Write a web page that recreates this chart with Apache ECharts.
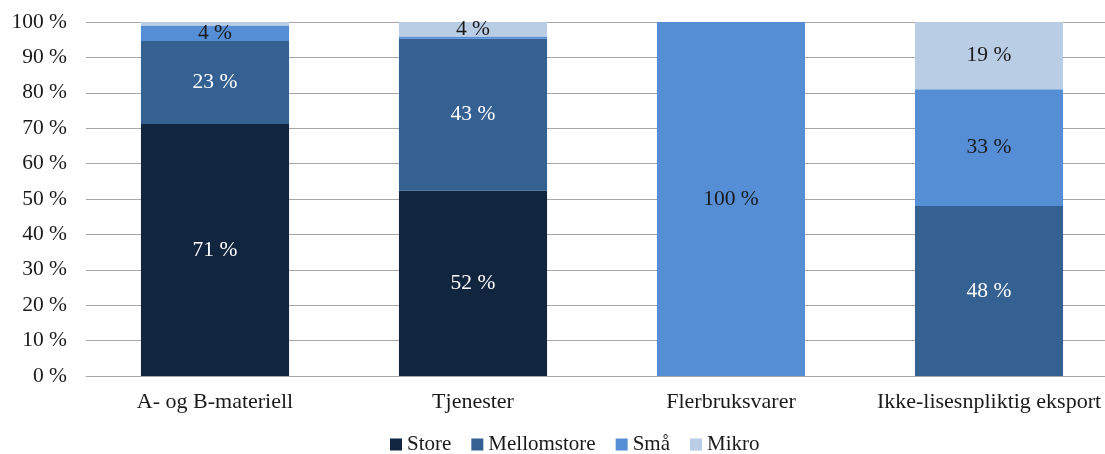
<!DOCTYPE html>
<html><head><meta charset="utf-8">
<script src="https://cdn.jsdelivr.net/npm/echarts@6/dist/echarts.min.js"></script>
<style>html,body{margin:0;padding:0;background:#fff;overflow:hidden}#c{width:1118px;height:454px}</style>
</head><body><div id="c"></div>
<script>
const categories = ['A- og B-materiell', 'Tjenester', 'Flerbruksvarer', 'Ikke-lisesnpliktig eksport'];
const seriesNames = ['Store', 'Mellomstore', 'Små', 'Mikro'];
const store = [71.2, 52.3, 0, 0];
const mellomstore = [23.4, 43.0, 0, 48.0];
const smaa = [4.4, 0.6, 100, 33.0];
const mikro = [1.0, 4.1, 0, 19.0];
const yTicks = [0, 10, 20, 30, 40, 50, 60, 70, 80, 90, 100];

const colors = ['#11253F', '#356092', '#558ED5', '#B9CDE5'];
const labelColors = ['#ffffff', '#ffffff', '#1a1a1a', '#1a1a1a'];
const font = 'Liberation Serif';
const values = [store, mellomstore, smaa, mikro];

const chart = echarts.init(document.getElementById('c'));
chart.setOption({
  animation: false,
  color: colors,
  textStyle: { fontFamily: font },
  grid: { left: 86, right: 0, top: 22, bottom: 78 },
  legend: {
    top: 429, left: 385, itemWidth: 12, itemHeight: 12, itemGap: 20,
    icon: 'rect',
    textStyle: { fontFamily: font, fontSize: 21, color: '#1a1a1a' },
    data: seriesNames
  },
  xAxis: {
    type: 'category', data: categories,
    axisLine: { lineStyle: { color: '#a6a6a6' } },
    axisTick: { show: false },
    axisLabel: { interval: 0, fontFamily: font, fontSize: 22, color: '#1a1a1a', margin: 15 }
  },
  yAxis: {
    type: 'value', min: 0, max: 100, interval: 10,
    axisLine: { show: false }, axisTick: { show: false },
    splitLine: { lineStyle: { color: '#a6a6a6' } },
    axisLabel: { fontFamily: font, fontSize: 21.5, color: '#1a1a1a', margin: 19,
      formatter: v => yTicks.includes(v) ? v + ' %' : '' }
  },
  series: seriesNames.map((n, i) => ({
    name: n, type: 'bar', stack: 'total', barWidth: '57.4%',
    data: values[i],
    itemStyle: { color: colors[i] },
    label: {
      show: true, position: 'inside', fontFamily: font, fontSize: 21.5, color: labelColors[i],
      formatter: p => p.value >= 2 ? Math.round(p.value) + ' %' : ''
    }
  }))
});
</script></body></html>
